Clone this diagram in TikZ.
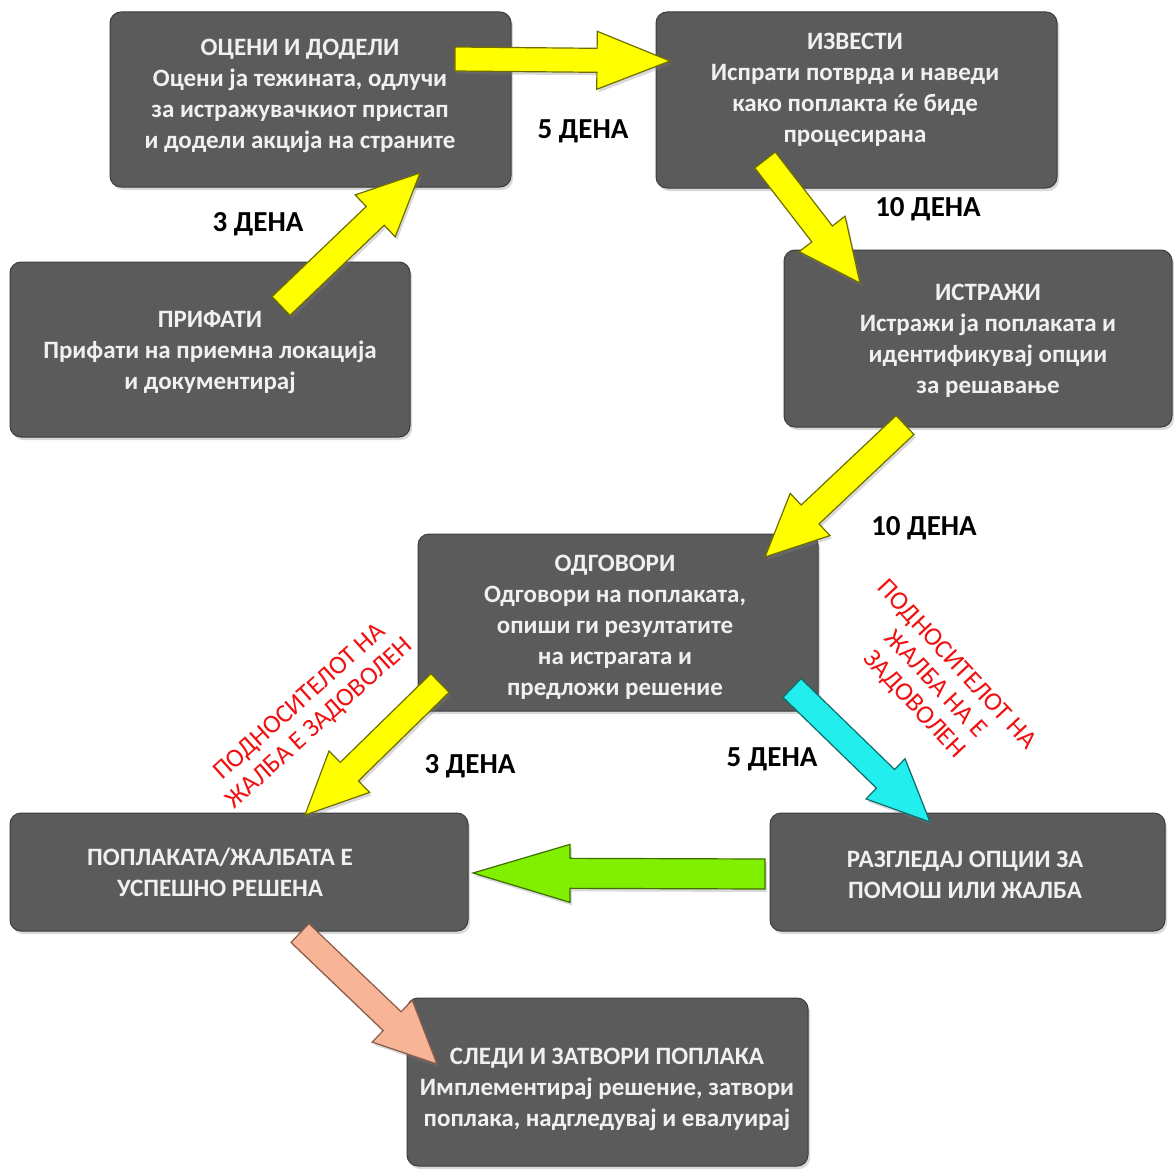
\documentclass[tikz,border=0pt]{standalone}
\usepackage{fontspec}
\setmainfont{Carlito}
\usetikzlibrary{calc,shadows}
\definecolor{boxfill}{HTML}{5B5B5B}
\definecolor{boxline}{HTML}{3C3C3C}
\definecolor{boxtxt}{HTML}{F0F0F0}
\definecolor{ayellow}{HTML}{FFFF00}
\definecolor{ayline}{HTML}{6E6E00}
\definecolor{acyan}{HTML}{22EEEE}
\definecolor{acline}{HTML}{0E6E6E}
\definecolor{agreen}{HTML}{80F000}
\definecolor{agline}{HTML}{3E6E00}
\definecolor{asalmon}{HTML}{F8B496}
\definecolor{asline}{HTML}{8A5A46}
\definecolor{redtxt}{HTML}{F01010}
\newcommand{\barrow}[7]{%
  \path ($(#2)!#7!(#1)$) coordinate (hb);
  \draw[draw=#4, fill=#3, line width=1.2pt, line join=miter,
        drop shadow={opacity=0.3, shadow xshift=2pt, shadow yshift=-3pt}]
    ($(#1)!#5!90:(#2)$) -- ($(hb)!#5!90:(#2)$) -- ($(hb)!#6!90:(#2)$) -- (#2)
    -- ($(hb)!#6!-90:(#2)$) -- ($(hb)!#5!-90:(#2)$) -- ($(#1)!#5!-90:(#2)$) -- cycle;}
\begin{document}
\begin{tikzpicture}[x=1pt,y=-1pt,
  box/.style={draw=boxline, fill=boxfill, rounded corners=11pt, line width=1pt,
    drop shadow={opacity=0.3, shadow xshift=2pt, shadow yshift=-3pt}},
  boxtext/.style={text=boxtxt, font=\bfseries\fontsize{25}{31}\selectfont, align=center, inner sep=0pt},
  days/.style={text=black, font=\bfseries\fontsize{29}{32}\selectfont, inner sep=0pt},
  redlbl/.style={text=redtxt, font=\fontsize{26}{29}\selectfont, align=center, inner sep=0pt}]
\useasboundingbox (0,0) rectangle (1174,1169);
% boxes
\path[box] (110,12) rectangle (511,187);
\path[box] (656,12) rectangle (1057,188);
\path[box] (10,262) rectangle (410,437);
\path[box] (784,250) rectangle (1172,427);
\path[box] (418,534) rectangle (818,711);
\path[box] (10,813) rectangle (468,931);
\path[box] (770,813) rectangle (1165,931);
\path[box] (407,998) rectangle (808,1166);
% box texts
\node[boxtext] (t1) at (300,96) {ОЦЕНИ И ДОДЕЛИ\\Оцени ја тежината, одлучи\\за истражувачкиот пристап\\и додели акција на страните};
\node[boxtext] (t2) at (855,90) {ИЗВЕСТИ\\Испрати потврда и наведи\\како поплакта ќе биде\\процесирана};
\node[boxtext] (t3) at (210,352) {ПРИФАТИ\\Прифати на приемна локација\\и документирај};
\node[boxtext] (t4) at (988,341) {ИСТРАЖИ\\Истражи ја поплаката и\\идентификувај опции\\за решавање};
\node[boxtext] (t5) at (615,627) {ОДГОВОРИ\\Одговори на поплаката,\\опиши ги резултатите\\на истрагата и\\предложи решение};
\node[boxtext] (t6) at (220,872) {ПОПЛАКАТА/ЖАЛБАТА Е\\УСПЕШНО РЕШЕНА};
\node[boxtext] (t7) at (965,875) {РАЗГЛЕДАЈ ОПЦИИ ЗА\\ПОМОШ ИЛИ ЖАЛБА};
\node[boxtext] (t8) at (607,1089) {СЛЕДИ И ЗАТВОРИ ПОПЛАКА\\Имплементирај решение, затвори\\поплака, надгледувај и евалуирај};
% arrow end points
\coordinate (a1s) at (281,306); \coordinate (a1e) at (420,173);
\coordinate (a2s) at (455,59);  \coordinate (a2e) at (670,61);
\coordinate (a3s) at (765,160); \coordinate (a3e) at (860,283);
\coordinate (a4s) at (905,425); \coordinate (a4e) at (765,557);
\coordinate (a5s) at (440,683); \coordinate (a5e) at (305,815);
\coordinate (a6s) at (792,688); \coordinate (a6e) at (930,822);
\coordinate (a7s) at (765,874); \coordinate (a7e) at (473,873);
\coordinate (a8s) at (300,933); \coordinate (a8e) at (437,1064);
\barrow{a1s}{a1e}{ayellow}{ayline}{13pt}{29pt}{62pt}
\barrow{a2s}{a2e}{ayellow}{ayline}{12pt}{29pt}{73pt}
\barrow{a3s}{a3e}{ayellow}{ayline}{13pt}{29pt}{62pt}
\barrow{a4s}{a4e}{ayellow}{ayline}{13pt}{29pt}{62pt}
\barrow{a5s}{a5e}{ayellow}{ayline}{13pt}{29pt}{62pt}
\barrow{a6s}{a6e}{acyan}{acline}{13pt}{28pt}{62pt}
\barrow{a7s}{a7e}{agreen}{agline}{15pt}{29pt}{97pt}
\barrow{a8s}{a8e}{asalmon}{asline}{13pt}{29pt}{62pt}
% day labels
\node[days] (d1) at (583,131) {5 ДЕНА};
\node[days] (d2) at (258,224) {3 ДЕНА};
\node[days] (d3) at (928,209) {10 ДЕНА};
\node[days] (d4) at (924,528) {10 ДЕНА};
\node[days] (d5) at (470,766) {3 ДЕНА};
\node[days] (d6) at (772,759) {5 ДЕНА};
% red labels
\node[redlbl, rotate=42] (r1) at (310,713) {ПОДНОСИТЕЛОТ НА\\ЖАЛБА Е ЗАДОВОЛЕН};
\node[redlbl, rotate=-47] (r2) at (935,685) {ПОДНОСИТЕЛОТ НА\\ЖАЛБА НА Е\\ЗАДОВОЛЕН};
\end{tikzpicture}
\end{document}
